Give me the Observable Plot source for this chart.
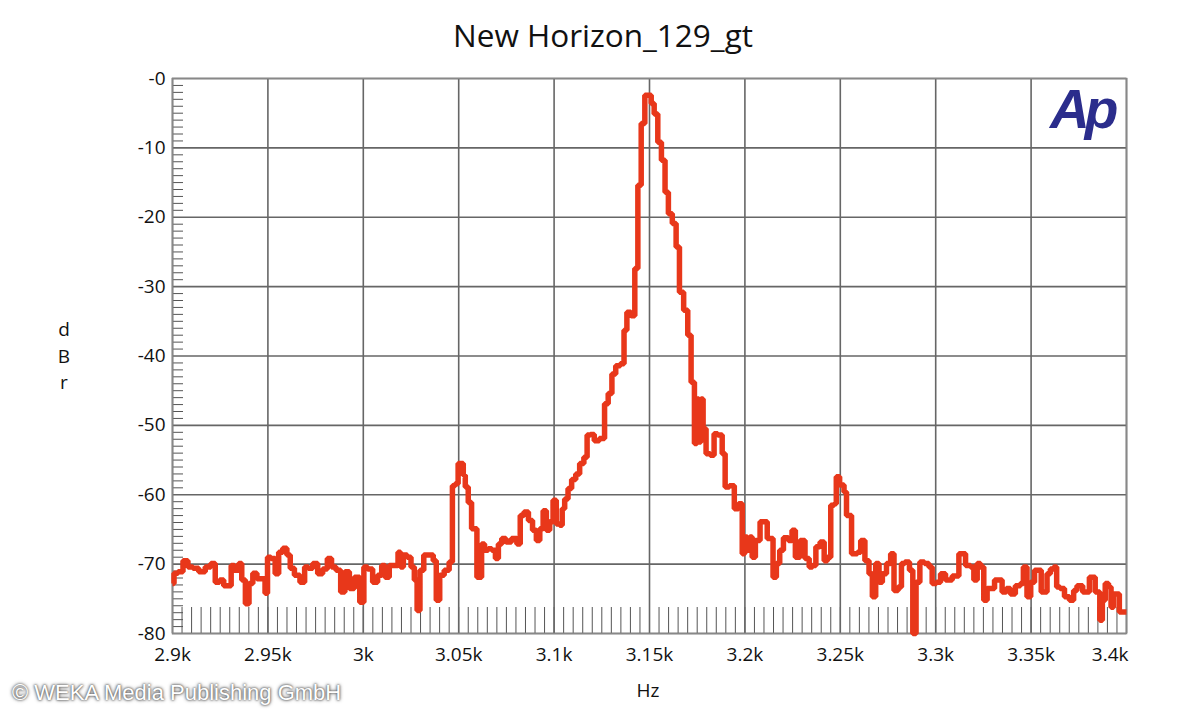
<!DOCTYPE html>
<html>
<head>
<meta charset="utf-8">
<script src="https://cdn.jsdelivr.net/npm/d3@7"></script>
<script src="https://cdn.jsdelivr.net/npm/@observablehq/plot@0.6"></script>
<style>
  html, body { margin: 0; padding: 0; background: #fff; }
  #wrap { position: relative; width: 1200px; height: 720px; overflow: hidden; font-family: "Open Sans", "Noto Sans", sans-serif; }
  #title { position: absolute; left: 0; width: 1206px; top: 13px; text-align: center; font-size: 31.5px; color: #111; }
  #ylab { position: absolute; left: 54px; top: 316px; width: 20px; text-align: center; font-size: 19px; line-height: 26.5px; color: #111; }
  #xlab { position: absolute; left: 620px; width: 56px; top: 677px; text-align: center; font-size: 19px; color: #111; }
  #logo { position: absolute; left: 1050px; top: 77px; font-family: "Liberation Sans", Arial, sans-serif; font-weight: bold; font-style: italic; font-size: 55px; letter-spacing: -5px; color: #2b2d8c; }
  #copy { position: absolute; left: 12px; top: 680px; font-family: "Liberation Sans", Arial, sans-serif; font-size: 22px; color: #fff; text-shadow: 0 0 2px #555, 0 0 3px #777, 0 0 4px #999; }
  #plot { position: absolute; left: 0; top: 0; }
</style>
</head>
<body>
<div id="wrap">
  <div id="plot"></div>
  <div id="title">New Horizon_129_gt</div>
  <div id="ylab">d<br>B<br>r</div>
  <div id="xlab">Hz</div>
  <div id="logo">Ap</div>
  <div id="copy">© WEKA Media Publishing GmbH</div>
</div>
<script>
// Frequency (Hz) of each trace point
const freq = [
  2900, 2901.6, 2904.2, 2906.8, 2909.4, 2912, 2915.5, 2918.8, 2921.4, 2923.4,
  2926, 2927.7, 2930.3, 2931.2, 2933.8, 2935.6, 2937, 2939.4, 2940.8, 2943.4,
  2945.1, 2947.8, 2949.2, 2950.4, 2952.8, 2954.8, 2956.5, 2959.1, 2960.8, 2962.6,
  2965.2, 2968.4, 2970.1, 2972.2, 2974.8, 2977.4, 2980, 2982.3, 2984.4, 2987,
  2989.3, 2991.4, 2994, 2996.6, 2999.7, 3000.9, 3003.6, 3006.2, 3008.8, 3010.5,
  3012.3, 3014.9, 3017.5, 3018.9, 3020.1, 3021.9, 3024.1, 3025.9, 3027.6, 3028.8,
  3030.6, 3032.8, 3035.8, 3037.5, 3039, 3041.1, 3043.7, 3046.3, 3047.1, 3049.2,
  3050.2, 3052, 3052.8, 3054.1, 3055.9, 3057.6, 3061.5, 3062.5, 3064.6, 3066.3,
  3068.4, 3070.1, 3071.5, 3073.6, 3075.9, 3079.4, 3081.6, 3082.9, 3085.5, 3087.6,
  3089.8, 3091.6, 3093.4, 3095.1, 3096.8, 3098.6, 3100.3, 3102, 3103.8, 3104.7,
  3106.4, 3108.2, 3110.2, 3112.5, 3114.3, 3116.9, 3117.7, 3120.3, 3121.8, 3125.6,
  3127.3, 3129.4, 3131.2, 3133.4, 3136, 3137.3, 3139, 3141.6, 3143, 3144.8,
  3146.5, 3148.6, 3150.4, 3151.4, 3153.5, 3155.2, 3157.3, 3159, 3160.8, 3163.1,
  3164.8, 3166.6, 3169.2, 3170.9, 3172.7, 3174.4, 3175.3, 3176.5, 3177.4, 3178.8,
  3180.5, 3183.2, 3184.5, 3187, 3189.2, 3190.1, 3193.6, 3195.3, 3198, 3199.2,
  3200.6, 3201.9, 3203.2, 3204.4, 3206.6, 3209.3, 3214.1, 3215.4, 3217.6, 3218.9,
  3221.5, 3224.1, 3225.3, 3227.6, 3230.2, 3232.8, 3234.6, 3236.3, 3238.1, 3240.7,
  3242.4, 3244.1, 3245.9, 3247.6, 3248.2, 3251.1, 3252.8, 3253.7, 3258.1, 3259.8,
  3261.6, 3264.2, 3265.9, 3267.7, 3269.4, 3271.2, 3272.9, 3275.5, 3277.3, 3279,
  3281.6, 3282.5, 3285.1, 3287.4, 3288.6, 3290.8, 3292.6, 3295.6, 3297.3, 3299,
  3301.7, 3303.4, 3306.9, 3310.4, 3313.9, 3317.4, 3319.1, 3320.9, 3322.6, 3324.3,
  3326.1, 3327.8, 3333.9, 3335.7, 3338.3, 3340, 3343.5, 3345.3, 3346.6, 3349.1,
  3350.5, 3353.1, 3357.5, 3359.2, 3361, 3362.7, 3364.1, 3366.2, 3368.8, 3371.4,
  3373.2, 3374.9, 3379.2, 3381.9, 3385.3, 3386.7, 3388, 3389.7, 3391.5, 3392.3,
  3394.1, 3398.4, 3400
];
// Level (dBr) of each trace point
const dbr = [
  -72.8, -71.3, -71.1, -69.5, -70.4, -70.6, -71.1, -70.4, -69.9, -72.6,
  -72.3, -73.1, -73.1, -70.2, -70.9, -69.9, -72.3, -75.7, -72.8, -71.3,
  -72.1, -72.1, -74.2, -69.0, -69.2, -71.4, -68.3, -67.7, -68.7, -70.6,
  -71.6, -72.6, -70.4, -70.6, -69.9, -71.4, -70.7, -69.2, -70.4, -70.9,
  -74.0, -71.1, -73.5, -71.9, -75.5, -70.4, -70.7, -72.6, -71.6, -70.2,
  -71.9, -70.2, -70.2, -68.3, -70.4, -68.7, -69.0, -70.4, -72.3, -76.7,
  -70.9, -68.7, -68.7, -69.5, -75.2, -71.6, -70.9, -69.7, -58.7, -58.4,
  -55.5, -55.5, -57.2, -58.9, -61.1, -64.9, -71.9, -67.1, -68.0, -67.8,
  -68.0, -69.2, -67.1, -66.3, -66.8, -66.3, -67.1, -63.0, -62.5, -63.7,
  -65.1, -66.6, -64.9, -62.3, -65.1, -63.9, -60.8, -64.2, -64.4, -62.0,
  -60.6, -59.1, -57.8, -57.0, -55.5, -54.6, -51.4, -51.3, -52.2, -51.9,
  -46.9, -45.4, -42.6, -41.4, -41.1, -36.3, -33.7, -34.2, -27.4, -15.4,
  -6.5, -2.4, -2.4, -3.6, -5.1, -9.2, -11.8, -16.4, -19.5, -20.9,
  -24.3, -30.8, -33.4, -37.0, -43.8, -52.6, -46.2, -52.4, -46.2, -50.5,
  -54.1, -54.3, -51.2, -51.4, -54.1, -58.9, -58.7, -62.0, -61.3, -68.5,
  -66.1, -68.0, -66.1, -69.0, -66.6, -63.9, -66.3, -71.9, -69.9, -68.0,
  -66.2, -66.6, -65.1, -69.0, -66.6, -69.2, -70.4, -70.2, -67.5, -66.8,
  -69.5, -69.0, -61.5, -61.3, -57.4, -58.6, -59.6, -63.0, -68.5, -68.3,
  -66.6, -69.5, -71.4, -74.7, -69.9, -72.6, -71.4, -69.9, -68.5, -73.8,
  -73.3, -69.9, -69.7, -70.9, -80.0, -72.6, -69.7, -69.9, -70.4, -72.8,
  -72.6, -71.4, -72.3, -71.7, -68.5, -70.2, -70.4, -72.3, -69.9, -70.4,
  -75.2, -73.5, -72.3, -74.0, -73.5, -74.3, -73.1, -72.8, -70.4, -74.7,
  -72.6, -70.9, -74.0, -71.4, -70.7, -70.4, -73.3, -73.5, -74.7, -75.2,
  -73.8, -73.1, -74.0, -71.9, -74.0, -78.1, -75.2, -72.8, -73.3, -76.2,
  -74.3, -76.9, -76.9
];
// Axis ticks
const xTicks = [2900, 2950, 3000, 3050, 3100, 3150, 3200, 3250, 3300, 3350, 3400];
const yTicks = [0, -10, -20, -30, -40, -50, -60, -70, -80];
const xMinor = d3.range(2905, 3400, 5);
const yMinor = d3.range(-79, 0, 1).filter(v => v % 10 !== 0);

const data = freq.map((f, i) => ({f, v: dbr[i]}));
const xFmt = d => (d / 1000) + "k";
const yFmt = d => "-" + Math.abs(d);

const chart = Plot.plot({
  width: 1200,
  height: 720,
  marginLeft: 172,
  marginRight: 74,
  marginTop: 78,
  marginBottom: 87,
  style: {fontFamily: "'Open Sans', 'Noto Sans', sans-serif", fontSize: "19px", color: "#111", background: "transparent"},
  x: {domain: [2900, 3400], ticks: xTicks},
  y: {domain: [-80, 0], ticks: yTicks},
  marks: [
    Plot.ruleX(xMinor, {stroke: "#555", strokeWidth: 1, insetTop: 529}),
    Plot.ruleY(yMinor, {stroke: "#555", strokeWidth: 1, insetRight: 943}),
    Plot.gridX(xTicks, {stroke: "#666", strokeOpacity: 1, strokeWidth: 1.6}),
    Plot.gridY(yTicks, {stroke: "#666", strokeOpacity: 1, strokeWidth: 1.6}),
    Plot.frame({stroke: "#888", strokeWidth: 1.6}),
    Plot.axisY(yTicks, {tickSize: 0, tickPadding: 7, tickFormat: yFmt, fontSize: 19, label: null}),
    Plot.axisX(xTicks.slice(0, -1), {tickSize: 0, tickPadding: 14, tickFormat: xFmt, fontSize: 19, label: null}),
    Plot.axisX([3400], {tickSize: 0, tickPadding: 14, tickFormat: xFmt, fontSize: 19, label: null, textAnchor: "end", dx: 2}),
    Plot.line(data, {x: "f", y: "v", curve: "step", stroke: "#e8371a", strokeWidth: 5.5, strokeLinejoin: "miter", strokeLinecap: "butt"})
  ]
});
document.getElementById("plot").appendChild(chart);
</script>
</body>
</html>
